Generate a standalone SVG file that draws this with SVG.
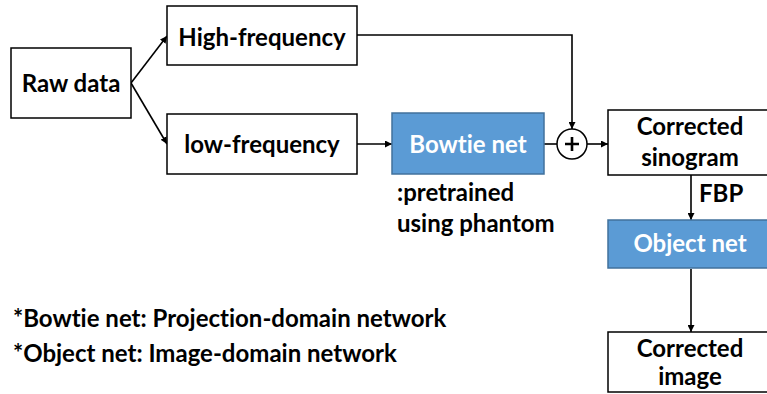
<svg xmlns="http://www.w3.org/2000/svg" width="767" height="394" viewBox="0 0 767 394">
<style>
.box{fill:#fff;stroke:#000;stroke-width:1.5}
.net{fill:#5B9BD5;stroke:#41719C;stroke-width:1.5}
text{font-family:Lato,"Open Sans","Liberation Sans",sans-serif;font-weight:700;font-size:24px;fill:#000;font-variant-ligatures:none;font-feature-settings:"liga" 0,"clig" 0}
.c{text-anchor:middle}
.w{fill:#fff}
.ln{fill:none;stroke:#000;stroke-width:1.6}
</style>
<defs>
<marker id="ah" viewBox="0 0 10 10" refX="10" refY="5" markerWidth="7" markerHeight="7" markerUnits="userSpaceOnUse" orient="auto">
<path d="M0,0 L10,5 L0,10 z" fill="#000"/>
</marker>
</defs>
<rect width="767" height="394" fill="#fff"/>
<g id="connectors">
<line class="ln" x1="131" y1="83" x2="167" y2="36" marker-end="url(#ah)"/>
<line class="ln" x1="131" y1="83" x2="167" y2="144" marker-end="url(#ah)"/>
<line class="ln" x1="357" y1="144" x2="392" y2="144" marker-end="url(#ah)"/>
<polyline class="ln" points="357,35 572,35 572,129" marker-end="url(#ah)"/>
<line class="ln" x1="544" y1="144" x2="557" y2="144"/>
<line class="ln" x1="587" y1="144" x2="608" y2="144" marker-end="url(#ah)"/>
<line class="ln" x1="691" y1="175" x2="691" y2="220" marker-end="url(#ah)"/>
<line class="ln" x1="691" y1="269" x2="691" y2="332" marker-end="url(#ah)"/>
</g>
<g id="raw"><rect class="box" x="11" y="48" width="120" height="70"/><text class="c" x="71" y="92">Raw data</text></g>
<g id="high"><rect class="box" x="167" y="6" width="190" height="59"/><text class="c" x="262" y="46">High-frequency</text></g>
<g id="low"><rect class="box" x="167" y="114" width="190" height="60"/><text class="c" x="262" y="153">low-frequency</text></g>
<g id="bowtie"><rect class="net" x="392" y="113" width="152" height="61"/><text class="c w" x="468" y="153">Bowtie net</text></g>
<g id="plus"><circle cx="572" cy="144" r="15" fill="#fff" stroke="#000" stroke-width="1.5"/><path d="M565,144 H579 M572,137 V151" stroke="#000" stroke-width="2.6" fill="none"/></g>
<g id="sinogram"><rect class="box" x="608" y="110" width="170" height="65"/><text class="c" x="690" y="135">Corrected</text><text class="c" x="690" y="166">sinogram</text></g>
<g id="fbp"><text x="699" y="202">FBP</text></g>
<g id="object"><rect class="net" x="608" y="220" width="170" height="48"/><text class="c w" x="690" y="252">Object net</text></g>
<g id="image"><rect class="box" x="608" y="332" width="170" height="60"/><text class="c" x="690" y="357">Corrected</text><text class="c" x="690" y="385">image</text></g>
<g id="note"><text x="397" y="201">:pretrained</text><text x="397" y="232">using phantom</text></g>
<g id="legend"><text x="13" y="327">*Bowtie net: Projection-domain network</text><text x="13" y="362">*Object net: Image-domain network</text></g>
</svg>
